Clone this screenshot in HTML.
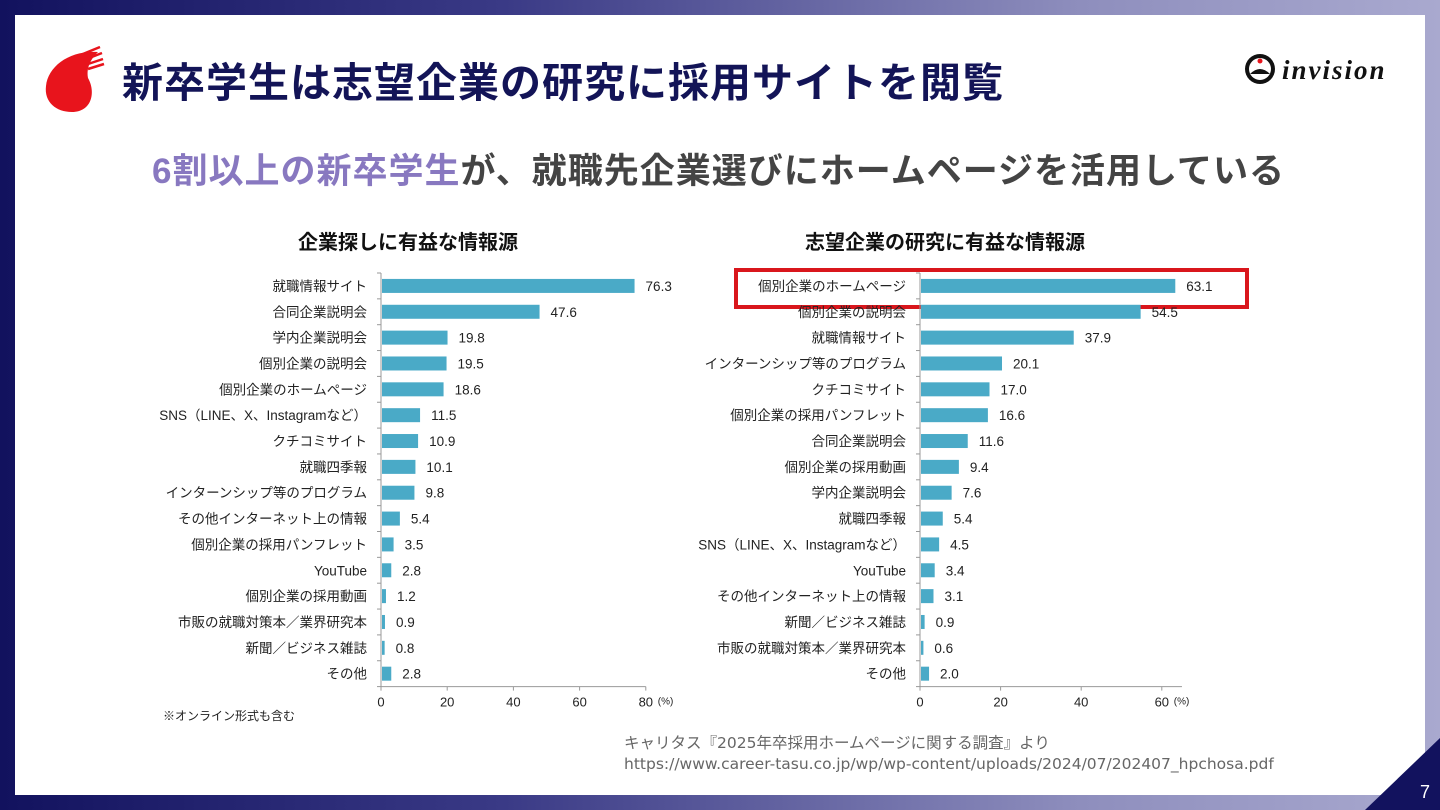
<!DOCTYPE html>
<html><head><meta charset="utf-8">
<style>
html,body{margin:0;padding:0;}
body{width:1440px;height:810px;position:relative;overflow:hidden;font-family:"Liberation Sans","Noto Sans CJK JP",sans-serif;
background:linear-gradient(90deg,#12125e 0%,#3a3a86 35%,#8e8ebd 75%,#a9a9cf 100%);}
#card{position:absolute;left:15px;top:15px;width:1410px;height:780px;background:#fff;}
.abs{position:absolute;}
#title{left:122px;top:49px;font-size:41px;font-weight:bold;color:#131457;letter-spacing:1px;white-space:nowrap;}
#sub{left:152px;top:143px;font-size:35px;font-weight:bold;color:#444;white-space:nowrap;letter-spacing:1px;}
#sub span{color:#8878c0;}
.src{font-size:15.5px;line-height:18px;color:#666;font-family:"DejaVu Sans","Noto Sans CJK JP",sans-serif;}
</style></head><body>
<div id="card"></div>
<svg class="abs" style="left:0;top:0" width="1440" height="810">
  <g>
    <path d="M98 52 C70 50 48 66 46 86 C44 102 56 112 72 112 C92 112 96 92 88 78 C86 66 92 58 98 52 Z" fill="#e8141c"/>
    <line x1="78" y1="56" x2="100" y2="47" stroke="#e8141c" stroke-width="2.5"/>
    <line x1="84" y1="60" x2="102" y2="53" stroke="#e8141c" stroke-width="2.5"/>
    <line x1="88" y1="64" x2="103" y2="59" stroke="#e8141c" stroke-width="2.5"/>
    <line x1="88" y1="69" x2="104" y2="64" stroke="#e8141c" stroke-width="2.5"/>
  </g>
  <g>
    <circle cx="1260" cy="69" r="15" fill="#111"/>
    <circle cx="1260" cy="69" r="11" fill="#fff"/>
    <path d="M1250 74 Q1260 64 1270 74 Z" fill="#111"/>
    <circle cx="1260" cy="61" r="2.5" fill="#e8141c"/>
    <text x="1282" y="79" font-family="Liberation Serif,serif" font-style="italic" font-weight="bold" font-size="27" fill="#111" letter-spacing="2">invision</text>
  </g>
  <polygon points="1365,810 1440,738 1440,810" fill="#12125e"/>
  <text x="1420" y="798" font-size="18" fill="#fff" font-family="Liberation Sans,sans-serif">7</text>
</svg>
<div id="title" class="abs">新卒学生は志望企業の研究に採用サイトを閲覧</div>
<div id="sub" class="abs"><span>6割以上の新卒学生</span>が、就職先企業選びにホームページを活用している</div>
<div class="abs src" style="left:624px;top:734px">キャリタス『2025年卒採用ホームページに関する調査』より</div>
<div class="abs src" style="left:624px;top:755px">https://www.career-tasu.co.jp/wp/wp-content/uploads/2024/07/202407_hpchosa.pdf</div>

<svg id="charts" class="abs" style="left:0;top:0" width="1440" height="810"></svg>
<script>
const leftCats=["就職情報サイト","合同企業説明会","学内企業説明会","個別企業の説明会","個別企業のホームページ","SNS（LINE、X、Instagramなど）","クチコミサイト","就職四季報","インターンシップ等のプログラム","その他インターネット上の情報","個別企業の採用パンフレット","YouTube","個別企業の採用動画","市販の就職対策本／業界研究本","新聞／ビジネス雑誌","その他"];
const leftVals=[76.3,47.6,19.8,19.5,18.6,11.5,10.9,10.1,9.8,5.4,3.5,2.8,1.2,0.9,0.8,2.8];
const leftTicks=[0,20,40,60,80];
const rightCats=["個別企業のホームページ","個別企業の説明会","就職情報サイト","インターンシップ等のプログラム","クチコミサイト","個別企業の採用パンフレット","合同企業説明会","個別企業の採用動画","学内企業説明会","就職四季報","SNS（LINE、X、Instagramなど）","YouTube","その他インターネット上の情報","新聞／ビジネス雑誌","市販の就職対策本／業界研究本","その他"];
const rightVals=[63.1,54.5,37.9,20.1,17.0,16.6,11.6,9.4,7.6,5.4,4.5,3.4,3.1,0.9,0.6,2.0];
const rightTicks=[0,20,40,60];

const NS="http://www.w3.org/2000/svg";
const svg=document.getElementById('charts');
function mk(tag,attrs,parent){const e=document.createElementNS(NS,tag);for(const k in attrs)e.setAttribute(k,attrs[k]);(parent||svg).appendChild(e);return e;}

function drawChart(id,title,cats,vals,ticks,x0,pxPerUnit,axisMax,titleX,highlight){
  const g=mk('g',{});
  
  
  const xs=v=>x0+v*pxPerUnit;
  const top=273,step=25.85;
  const ys=i=>top+i*step;
  const bottom=top+cats.length*step;
  const t=mk('text',{x:titleX,y:249,'text-anchor':'middle','font-size':20,'font-weight':'bold',fill:'#111'},g);
  t.textContent=title;
  
  
  if(highlight){
    const r=mk('rect',{x:736,y:270,width:511,height:37,fill:'#fff',stroke:'#d9161c','stroke-width':4},g);
    
    
  }
  mk('line',{x1:x0,y1:top,x2:x0,y2:bottom,stroke:'#999','stroke-width':1},g);
  mk('line',{x1:x0,y1:bottom,x2:xs(axisMax),y2:bottom,stroke:'#999','stroke-width':1},g);
  for(let i=0;i<=cats.length;i++){mk('line',{x1:x0-4,y1:ys(i),x2:x0,y2:ys(i),stroke:'#999'},g);}
  ticks.forEach(v=>{
    mk('line',{x1:xs(v),y1:bottom,x2:xs(v),y2:bottom+4,stroke:'#999'},g);
    const tl=mk('text',{x:xs(v),y:bottom+20,'text-anchor':'middle','font-size':13,fill:'#222'},g);
    tl.textContent=v;
    
    
  });
  const u=mk('text',{x:xs(ticks[ticks.length-1])+12,y:bottom+18,'font-size':10,fill:'#222'},g);u.textContent='(%)';
  cats.forEach((c,i)=>{
    const cy=ys(i)+step/2;
    const lb=mk('text',{x:x0-14,y:cy+5,'text-anchor':'end','font-size':13.5,fill:'#222'},g);
    lb.textContent=c;
    
    
    const b=mk('rect',{x:x0+1,y:cy-7,width:Math.max(1,xs(vals[i])-x0),height:14,fill:'#4aaac7'},g);
    
    
    const vl=mk('text',{x:xs(vals[i])+12,y:cy+5,'font-size':13.5,fill:'#222'},g);
    vl.textContent=vals[i].toFixed(1);
    
    
  });
}
drawChart('left-chart','企業探しに有益な情報源',leftCats,leftVals,leftTicks,381,3.31,80,408,false);
drawChart('right-chart','志望企業の研究に有益な情報源',rightCats,rightVals,rightTicks,920,4.03,65,945,true);
const n=mk('text',{x:163,y:720,'font-size':12,fill:'#222'});
n.textContent='※オンライン形式も含む';


</script>
</body></html>
